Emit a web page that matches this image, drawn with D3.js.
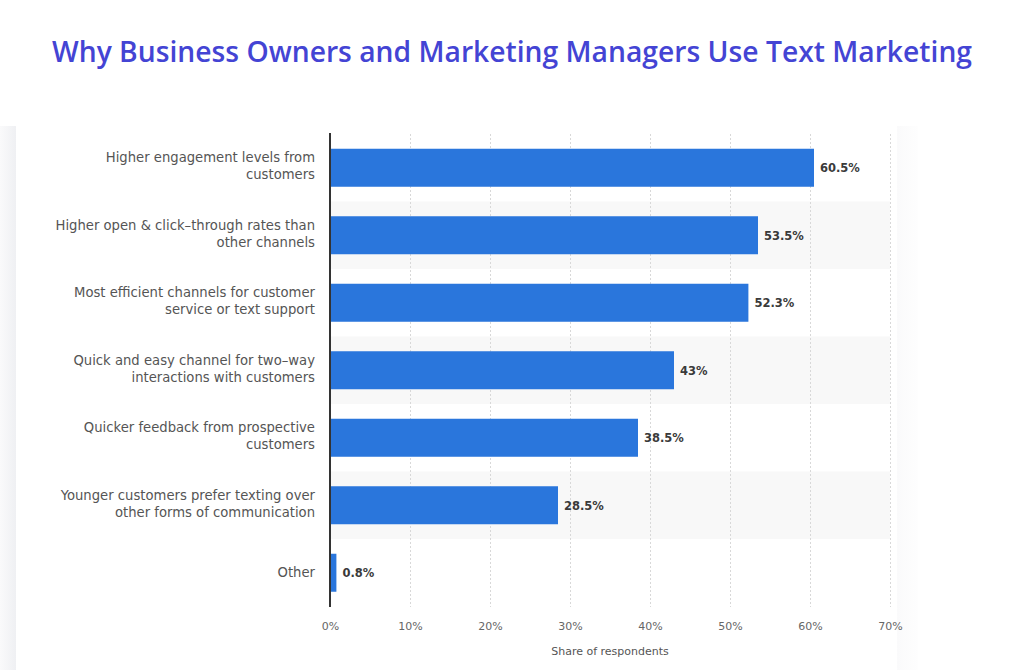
<!DOCTYPE html>
<html><head><meta charset="utf-8">
<script src="https://cdn.jsdelivr.net/npm/d3@7"></script>
<style>body{margin:0;background:#fff;}svg{display:block;}</style>
</head><body>
<svg id="c" width="1024" height="670"></svg>
<script>
const categories = [
  ["Higher engagement levels from", "customers"],
  ["Higher open & click\u2013through rates than", "other channels"],
  ["Most efficient channels for customer", "service or text support"],
  ["Quick and easy channel for two\u2013way", "interactions with customers"],
  ["Quicker feedback from prospective", "customers"],
  ["Younger customers prefer texting over", "other forms of communication"],
  ["Other"]
];
const values = [60.5, 53.5, 52.3, 43, 38.5, 28.5, 0.8];
const valueLabels = ["60.5%", "53.5%", "52.3%", "43%", "38.5%", "28.5%", "0.8%"];
const xTicks = [0, 10, 20, 30, 40, 50, 60, 70];
const titleText = "Why Business Owners and Marketing Managers Use Text Marketing";
const axisTitle = "Share of respondents";

const svg = d3.select("#c");
const font = "'DejaVu Sans', 'Open Sans', sans-serif";

// card shadows
const defs = svg.append("defs");
const gl = defs.append("linearGradient").attr("id","gl");
gl.append("stop").attr("offset","0").attr("stop-color","#fafafb");
gl.append("stop").attr("offset","1").attr("stop-color","#eff0f3");
const gr = defs.append("linearGradient").attr("id","gr");
gr.append("stop").attr("offset","0").attr("stop-color","#fafafb");
gr.append("stop").attr("offset","1").attr("stop-color","#fefefe");
svg.append("rect").attr("x",0).attr("y",126).attr("width",16).attr("height",544).attr("fill","url(#gl)");
svg.append("rect").attr("x",897).attr("y",126).attr("width",21).attr("height",544).attr("fill","url(#gr)");

const x = d3.scaleLinear().domain([0, 70]).range([330, 890]);
const y = d3.scaleBand().domain(d3.range(categories.length)).range([134, 606.5]).paddingInner(0).paddingOuter(0);

// alternating bands
svg.append("g").selectAll("rect").data(d3.range(categories.length).filter(i => i % 2 === 1)).join("rect")
  .attr("x", x(0)).attr("width", x(70) - x(0))
  .attr("y", i => y(i)).attr("height", y.bandwidth())
  .attr("fill", "#f8f8f8");

// gridlines
svg.append("g").selectAll("line").data(xTicks.filter(t => t > 0)).join("line")
  .attr("x1", d => x(d) + 0.5).attr("x2", d => x(d) + 0.5)
  .attr("y1", 134).attr("y2", 607)
  .attr("stroke", "#d8d8d8").attr("stroke-width", 1).attr("stroke-dasharray", "2,2");

// bars
const barH = 38;
svg.append("g").selectAll("rect").data(values).join("rect")
  .attr("x", x(0)).attr("width", d => x(d) - x(0))
  .attr("y", (d, i) => y(i) + (y.bandwidth() - barH) / 2)
  .attr("height", barH)
  .attr("fill", "#2a76dc");

// value labels
svg.append("g").selectAll("text").data(values).join("text")
  .attr("x", d => x(d) + 6)
  .attr("y", (d, i) => y(i) + y.bandwidth() / 2 + 4.5)
  .attr("font-family", font).attr("font-size", 11.5).attr("font-weight", "bold")
  .attr("fill", "#3a3a3a")
  .text((d, i) => valueLabels[i]);

// category labels
const cg = svg.append("g");
categories.forEach((lines, i) => {
  const cy = y(i) + y.bandwidth() / 2;
  const lh = 17;
  const t = cg.append("text").attr("text-anchor", "end")
    .attr("font-family", font).attr("font-size", 13.2).attr("fill", "#555");
  lines.forEach((ln, j) => {
    t.append("tspan").attr("x", 315)
      .attr("y", cy + 4.5 + (lines.length > 1 ? -1.5 : 0) + (j - (lines.length - 1) / 2) * lh)
      .text(ln);
  });
});

// axis line
svg.append("line").attr("x1", x(0)).attr("x2", x(0)).attr("y1", 133).attr("y2", 607)
  .attr("stroke", "#333").attr("stroke-width", 2);

// x axis
const xAxis = d3.axisBottom(x).tickValues(xTicks).tickFormat(d => d + "%").tickSize(0);
const ax = svg.append("g").attr("transform", "translate(0,619)").call(xAxis);
ax.select(".domain").remove();
ax.selectAll("text").attr("font-family", font).attr("font-size", 11).attr("fill", "#666");

svg.append("text").attr("x", (x(0) + x(70)) / 2).attr("y", 655)
  .attr("text-anchor", "middle").attr("font-family", font).attr("font-size", 11).attr("fill", "#555")
  .text(axisTitle);

// title
svg.append("text").attr("x", 512).attr("y", 62).attr("text-anchor", "middle")
  .attr("font-family", "'Open Sans', Lato, sans-serif").attr("font-weight", 600).attr("font-size", 28)
  .attr("fill", "#4444d4")
  .attr("textLength", 920).attr("lengthAdjust", "spacingAndGlyphs")
  .text(titleText);
</script>
</body></html>
